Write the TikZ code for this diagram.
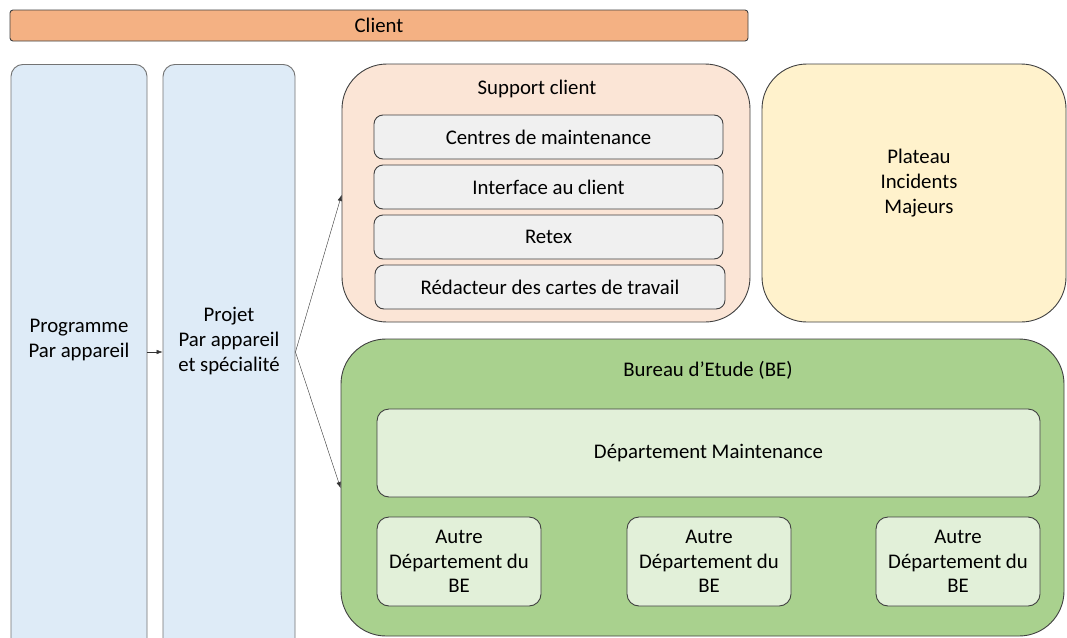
\documentclass[tikz,border=0pt]{standalone}
\usepackage{fontspec}
\setmainfont{Carlito}
\usetikzlibrary{arrows.meta}

\definecolor{clientorange}{HTML}{F4B183}
\definecolor{progblue}{HTML}{DEEBF7}
\definecolor{supportpink}{HTML}{FBE5D6}
\definecolor{innergray}{HTML}{F0F0F0}
\definecolor{plateauyellow}{HTML}{FFF2CC}
\definecolor{begreen}{HTML}{A9D18E}
\definecolor{deptgreen}{HTML}{E2F0D9}

\tikzset{
  box/.style={draw=black!75, line width=0.9pt, rounded corners=#1, align=center, inner sep=0pt},
  bigbox/.style={box=45pt},
  subbox/.style={box=9pt, fill=innergray, minimum width=349pt, minimum height=44pt},
  deptbox/.style={box=12pt, fill=deptgreen},
  txt/.style={align=center, inner sep=0pt},
  link/.style={draw=black!80, line width=0.4pt, -{Latex[length=6pt,width=4.5pt]}},
}

\begin{document}
\begin{tikzpicture}[x=1pt, y=-1pt, font=\fontsize{20.8}{24.8}\selectfont]
  \clip (0,0) rectangle (1067,637);
  \fill[white] (0,0) rectangle (1067,637);

  % client band
  \node[box=3pt, fill=clientorange, minimum width=738pt, minimum height=31pt] (client) at (379,25.5) {Client};

  % left columns
  \node[box=12pt, draw=black!55, fill=progblue, anchor=north, minimum width=136pt, minimum height=640pt] (prog) at (79,64) {};
  \node[txt] (progtxt) at (79,340) {Programme\\Par appareil};
  \node[box=12pt, draw=black!55, fill=progblue, anchor=north, minimum width=132pt, minimum height=640pt] (proj) at (229,64) {};
  \node[txt] (projtxt) at (229,341) {Projet\\Par appareil\\et spécialité};

  % support client
  \node[bigbox, fill=supportpink, minimum width=408pt, minimum height=258pt] (support) at (546,193) {};
  \node[txt] (supporttitle) at (537,89) {Support client};
  \node[subbox] (centres) at (548.5,137) {Centres de maintenance};
  \node[subbox] (interface) at (548.5,187) {Interface au client};
  \node[subbox] (retex) at (548.5,237) {Retex};
  \node[subbox, minimum width=350pt] (redacteur) at (550,287) {Rédacteur des cartes de travail};

  % plateau
  \node[bigbox, fill=plateauyellow, minimum width=304pt, minimum height=258pt] (plateau) at (914,193) {};
  \node[txt] (plateautxt) at (919,183) {Plateau\\Incidents\\Majeurs};

  % bureau d'etude
  \node[bigbox, fill=begreen, minimum width=723pt, minimum height=297pt] (be) at (702.5,487.5) {};
  \node[txt] (betitle) at (708,370) {Bureau d’Etude (BE)};
  \node[deptbox, minimum width=663pt, minimum height=88pt] (maint) at (708.5,453) {Département Maintenance};
  \foreach \x/\n in {459/autreA, 709/autreB, 958/autreC}
    \node[deptbox, minimum width=164pt, minimum height=89pt] (\n) at (\x,561.5) {Autre\\Département du\\BE};

  % links
  \draw[link] (prog.east |- 0,352) -- (proj.west |- 0,352);
  \draw[link] (proj.east |- 0,352) -- (support.west |- 0,195);
  \draw[link] (proj.east |- 0,352) -- (be.west |- 0,488);
\end{tikzpicture}
\end{document}
